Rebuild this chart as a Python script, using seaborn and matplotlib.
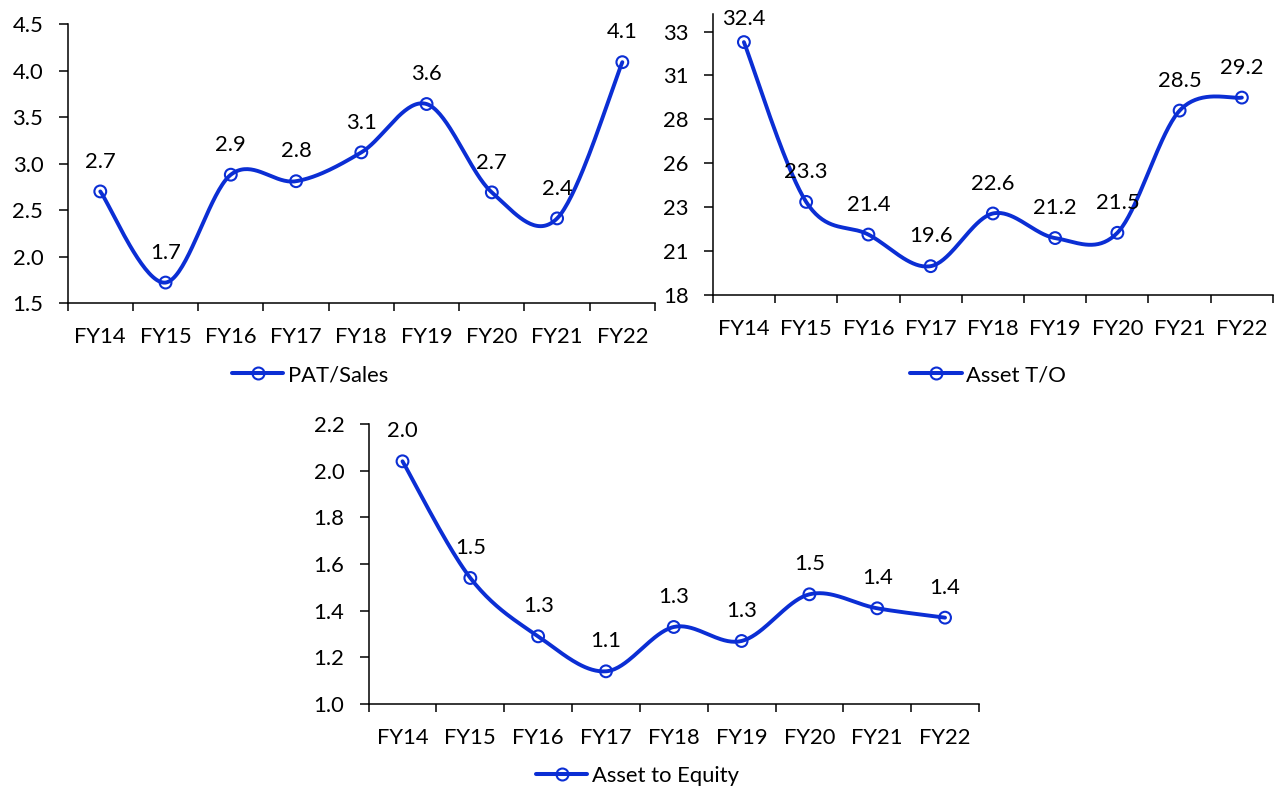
import numpy as np
import pandas as pd
import matplotlib
matplotlib.use("Agg")
import matplotlib.pyplot as plt
from matplotlib.lines import Line2D
from matplotlib.ticker import FixedLocator, FuncFormatter
import seaborn as sns

# ---- data ----
years = ["FY14", "FY15", "FY16", "FY17", "FY18", "FY19", "FY20", "FY21", "FY22"]
pat_sales = [2.70, 1.72, 2.88, 2.81, 3.12, 3.64, 2.69, 2.41, 4.09]
asset_turnover = [32.40, 23.30, 21.44, 19.64, 22.64, 21.24, 21.54, 28.50, 29.24]
asset_to_equity = [2.04, 1.54, 1.29, 1.14, 1.33, 1.27, 1.47, 1.41, 1.37]

series_names = ["PAT/Sales", "Asset T/O", "Asset to Equity"]

BLUE = "#0B2ED4"
INK = "#000000"
FONT = 15.8

sns.set_theme(style="white")
plt.rcParams["font.family"] = ["Lato", "DejaVu Sans"]
plt.rcParams["font.size"] = FONT


def smooth_curve(y, steps=40):
    """Bezier smoothing through every point (spreadsheet-style smoothed line)."""
    y = np.asarray(y, dtype=float)
    x = np.arange(len(y), dtype=float)
    pts = np.column_stack([x, y])
    ext = np.vstack([pts[0], pts, pts[-1]])
    out = []
    t = np.linspace(0, 1, steps)[:, None]
    for i in range(len(pts) - 1):
        p0 = ext[i + 1]
        p3 = ext[i + 2]
        c1 = p0 + (ext[i + 2] - ext[i]) / 6.0
        c2 = p3 - (ext[i + 3] - ext[i + 1]) / 6.0
        seg = ((1 - t) ** 3) * p0 + 3 * ((1 - t) ** 2) * t * c1 + 3 * (1 - t) * t ** 2 * c2 + t ** 3 * p3
        out.append(seg if i == 0 else seg[1:])
    arr = np.vstack(out)
    return pd.DataFrame({"x": arr[:, 0], "y": arr[:, 1]})


def draw_panel(fig, rect, values, name, ylim, yticks, yfmt, legend_xy, label_offsets=None):
    ax = fig.add_axes(rect)
    curve = smooth_curve(values)
    sns.lineplot(data=curve, x="x", y="y", ax=ax, color=BLUE, linewidth=2.8,
                 sort=False, estimator=None)
    pts = pd.DataFrame({"x": np.arange(len(values)), "y": values})
    sns.scatterplot(data=pts, x="x", y="y", ax=ax, marker="o", s=72,
                    facecolors="none", edgecolor=BLUE, linewidth=1.5, zorder=3)
    for i, v in enumerate(values):
        dy = 21.5 if label_offsets is None else label_offsets[i]
        ax.annotate(f"{v:.1f}", (i, v), xytext=(0, dy), textcoords="offset points",
                    ha="center", va="center", fontsize=FONT, color=INK,
                    annotation_clip=False)

    ax.set_xlim(-0.5, len(values) - 0.5)
    ax.set_ylim(*ylim)
    ax.set_xlabel("")
    ax.set_ylabel("")

    ax.xaxis.set_major_locator(FixedLocator(np.arange(len(values))))
    ax.set_xticklabels(years)
    ax.xaxis.set_minor_locator(FixedLocator(np.arange(len(values) + 1) - 0.5))
    ax.tick_params(axis="x", which="major", length=0, pad=17, labelsize=FONT, labelcolor=INK)
    ax.tick_params(axis="x", which="minor", length=6, width=1.1, direction="out",
                   color=INK, bottom=True)
    ax.yaxis.set_major_locator(FixedLocator(yticks))
    ax.yaxis.set_major_formatter(FuncFormatter(yfmt))
    ax.tick_params(axis="y", which="major", length=6.5, width=1.1, direction="out",
                   left=True, color=INK, pad=11, labelsize=FONT, labelcolor=INK)

    for side in ["top", "right"]:
        ax.spines[side].set_visible(False)
    for side in ["left", "bottom"]:
        ax.spines[side].set_color(INK)
        ax.spines[side].set_linewidth(1.1)
    ax.grid(False)

    handle = Line2D([], [], color=BLUE, linewidth=2.9, marker="o", markersize=8.6,
                    markerfacecolor="none", markeredgewidth=1.5, markeredgecolor=BLUE)
    ax.legend([handle], [name], loc="center left", bbox_to_anchor=legend_xy,
              bbox_transform=fig.transFigure, frameon=False, fontsize=FONT,
              handlelength=2.35, handletextpad=0.2, borderpad=0, borderaxespad=0,
              labelcolor=INK)
    return ax


fig = plt.figure(figsize=(12.79, 7.91), dpi=100)

fmt1 = lambda v, p: f"{v:.1f}"
fmt_round = lambda v, p: f"{int(np.floor(v + 0.5))}"

draw_panel(fig, [0.0529, 0.6169, 0.4592, 0.3527], pat_sales, series_names[0],
           (1.5, 4.5), np.arange(1.5, 4.51, 0.5), fmt1, (0.1812, 0.5259))
draw_panel(fig, [0.5573, 0.6271, 0.4380, 0.3552], asset_turnover, series_names[1],
           (18, 34), np.arange(18, 33.01, 2.5), fmt_round, (0.7115, 0.5259),
           label_offsets=[16.5] + [21.5] * 8)
draw_panel(fig, [0.2882, 0.1100, 0.4772, 0.3540], asset_to_equity, series_names[2],
           (1.0, 2.2), np.arange(1.0, 2.21, 0.2), fmt1, (0.4190, 0.0190))

fig.savefig("out.png", dpi=100, facecolor="white")
